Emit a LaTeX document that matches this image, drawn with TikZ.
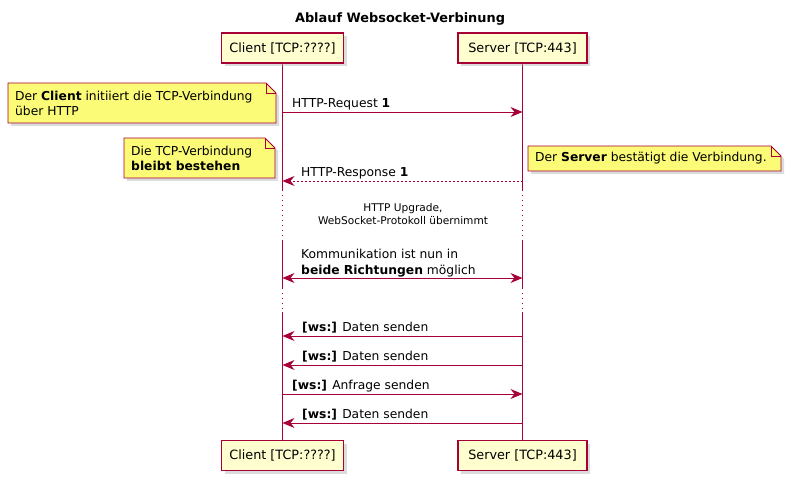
\documentclass[tikz,border=0pt]{standalone}
\usepackage{fontspec}
\setmainfont{DejaVu Sans}
\usetikzlibrary{arrows.meta,shadows,calc,backgrounds}
\definecolor{pumlred}{HTML}{A80036}
\definecolor{partfill}{HTML}{FEFECE}
\definecolor{notefill}{HTML}{FBFB77}
\tikzset{
  part/.style={draw=pumlred, fill=partfill, line width=1.2pt, minimum height=30pt,
    inner sep=0pt, font=\fontsize{12.8}{15}\selectfont,
    drop shadow={shadow xshift=3pt, shadow yshift=-3pt, fill=black!30, opacity=0.45}},
  life/.style={draw=pumlred, line width=0.9pt},
  lifedot/.style={life, dash pattern=on 1pt off 4pt},
  tip/.tip={Stealth[length=12pt,width=10pt,inset=4pt]},
  msg/.style={draw=pumlred, line width=0.9pt, -tip},
  dmsg/.style={msg, dash pattern=on 2pt off 2pt},
  lbl/.style={inner sep=0pt, font=\fontsize{12.3}{16}\selectfont, align=left},
  notetext/.style={inner sep=0pt, font=\fontsize{12.3}{15}\selectfont, align=left},
  noteshape/.style={draw=pumlred, fill=notefill, line width=0.9pt},
  noteshadow/.style={fill=black!30, opacity=0.45},
  delay/.style={inner sep=0pt, font=\fontsize{10.6}{13}\selectfont, align=center},
  titlestyle/.style={inner sep=0pt, font=\bfseries\fontsize{12.9}{15}\selectfont}
}
% name, x1, y1, x2, y2, text
\newcommand\pnote[6]{%
  \fill[noteshadow] (#2+3,#3+3) -- (#4-10+3,#3+3) -- (#4+3,#3+10+3) -- (#4+3,#5+3) -- (#2+3,#5+3) -- cycle;
  \draw[noteshape] (#2,#3) -- (#4-10,#3) -- (#4,#3+10) -- (#4,#5) -- (#2,#5) -- cycle;
  \draw[pumlred, line width=0.9pt] (#4-10,#3) -- (#4-10,#3+10) -- (#4,#3+10);
  \node[notetext, anchor=west] (#1) at (#2+7,{(#3+#5)/2}) {#6};
}
\begin{document}
\begin{tikzpicture}[x=1pt,y=-1pt]
\useasboundingbox (0,0) rectangle (792,481);

\node[titlestyle] (title) at (400,19) {Ablauf Websocket-Verbinung};

\node[part, minimum width=122pt] (ct) at (282.5,48) {Client [TCP:????]};
\node[part, minimum width=129pt] (st) at (522.5,48) {Server [TCP:443]};
\node[part, minimum width=122pt] (cb) at (282.5,455.5) {Client [TCP:????]};
\node[part, minimum width=129pt] (sb) at (522.5,455.5) {Server [TCP:443]};

% lifeline breaks
\coordinate (cl1) at (282.5,190); \coordinate (sl1) at (522.5,190);
\coordinate (cl2) at (282.5,241); \coordinate (sl2) at (522.5,241);
\coordinate (cl3) at (282.5,288); \coordinate (sl3) at (522.5,288);
\coordinate (cl4) at (282.5,312); \coordinate (sl4) at (522.5,312);
\begin{scope}[on background layer]
\fill[white] (0,0) rectangle (792,481);
\draw[life] (ct.south) -- (cl1); \draw[lifedot] (cl1) -- (cl2);
\draw[life] (cl2) -- (cl3); \draw[lifedot] (cl3) -- (cl4);
\draw[life] (cl4) -- (cb.north);
\draw[life] (st.south) -- (sl1); \draw[lifedot] (sl1) -- (sl2);
\draw[life] (sl2) -- (sl3); \draw[lifedot] (sl3) -- (sl4);
\draw[life] (sl4) -- (sb.north);
\end{scope}

% message end points
\coordinate (c1) at (282.5,112); \coordinate (s1) at (522.5,112);
\coordinate (c2) at (282.5,181); \coordinate (s2) at (522.5,181);
\coordinate (c3) at (282.5,278); \coordinate (s3) at (522.5,278);
\coordinate (c4) at (282.5,336); \coordinate (s4) at (522.5,336);
\coordinate (c5) at (282.5,365); \coordinate (s5) at (522.5,365);
\coordinate (c6) at (282.5,394); \coordinate (s6) at (522.5,394);
\coordinate (c7) at (282.5,423); \coordinate (s7) at (522.5,423);

\draw[msg] (c1) -- (s1);
\node[lbl, anchor=base west] (m1) at (292,107.5) {HTTP-Request \textbf{1}};

\draw[dmsg] (s2) -- (c2);
\node[lbl, anchor=base west] (m2) at (301,176.5) {HTTP-Response \textbf{1}};

\node[delay] (dl) at (403,214) {HTTP Upgrade,\\WebSocket-Protokoll übernimmt};

\draw[msg, tip-tip] (c3) -- (s3);
\node[lbl, anchor=base west] (m3) at (301,274.5) {Kommunikation ist nun in\\\textbf{beide Richtungen} möglich};

\draw[msg] (s4) -- (c4);
\node[lbl, anchor=base west] (m4) at (302,331.5) {\textbf{[ws:]} Daten senden};
\draw[msg] (s5) -- (c5);
\node[lbl, anchor=base west] (m5) at (302,360.5) {\textbf{[ws:]} Daten senden};
\draw[msg] (c6) -- (s6);
\node[lbl, anchor=base west] (m6) at (292,389.5) {\textbf{[ws:]} Anfrage senden};
\draw[msg] (s7) -- (c7);
\node[lbl, anchor=base west] (m7) at (302,418.5) {\textbf{[ws:]} Daten senden};

\pnote{n1}{8}{83}{276}{123}{Der \textbf{Client} initiiert die TCP-Verbindung\\über HTTP}
\pnote{n2}{124}{138}{275}{178}{Die TCP-Verbindung\\\textbf{bleibt bestehen}}
\pnote{n3}{528}{146}{781}{171}{Der \textbf{Server} bestätigt die Verbindung.}
\end{tikzpicture}
\end{document}
